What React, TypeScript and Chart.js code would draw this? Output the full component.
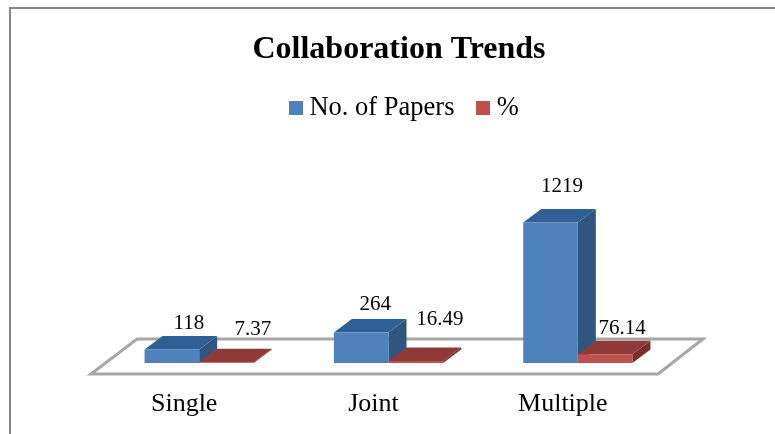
import React, { useEffect, useRef } from "react";
import { Chart, registerables } from "chart.js";

Chart.register(...registerables);

const categories = ["Single", "Joint", "Multiple"];
const papers = [118, 264, 1219];
const percent = [7.37, 16.49, 76.14];
const seriesNames = ["No. of Papers", "%"];

const FONT = '"Liberation Serif", "Times New Roman", serif';
const DEPTH_X = 18;
const DEPTH_Y = 13.5;
const frontColors = ["#4f81bd", "#c0504d"];
const topColors = ["#2f5f94", "#8f3a38"];
const sideColors = ["#30557f", "#772e2c"];
// nudges of each value label from the top-centre of its bar: [dx, dy]
const labelNudges = [
  [[17, -26], [14, -28], [11.5, -36]],
  [[26.5, -33], [24, -42], [17, -26]],
];

function swatch(color: string) {
  const c = document.createElement("canvas");
  c.width = 14;
  c.height = 14;
  const g = c.getContext("2d")!;
  g.fillStyle = color;
  g.fillRect(0, 0, 14, 14);
  return c;
}

function poly(ctx: CanvasRenderingContext2D, pts: number[][], fill: string) {
  ctx.beginPath();
  pts.forEach(([x, y], i) => (i ? ctx.lineTo(x, y) : ctx.moveTo(x, y)));
  ctx.closePath();
  ctx.fillStyle = fill;
  ctx.fill();
}

const framePlugin = {
  id: "frame",
  beforeDraw(chart: any) {
    const { ctx } = chart;
    ctx.save();
    ctx.fillStyle = "#ffffff";
    ctx.fillRect(0, 0, chart.width, chart.height);
    ctx.strokeStyle = "#868686";
    ctx.lineWidth = 2;
    ctx.strokeRect(10, 8, chart.width + 50, chart.height + 50);
    ctx.restore();
  },
  afterLayout(chart: any) {
    chart.legend.left += 8;
    chart.legend.right += 8;
  },
};

const depthPlugin = {
  id: "depth",
  beforeDatasetsDraw(chart: any) {
    const { ctx, chartArea } = chart;
    const base = chart.scales.y.getPixelForValue(0);
    ctx.save();
    ctx.beginPath();
    ctx.moveTo(chartArea.left - 13.5, base + 11);
    ctx.lineTo(chartArea.right - 14.5, base + 11);
    ctx.lineTo(chartArea.right + 30.5, base - 24);
    ctx.lineTo(chartArea.left + 32.5, base - 24);
    ctx.closePath();
    ctx.strokeStyle = "#a6a6a6";
    ctx.lineWidth = 3;
    ctx.stroke();
    [0, 1].forEach((d) => {
      chart.getDatasetMeta(d).data.forEach((bar: any) => {
        const l = bar.x - bar.width / 2;
        const r = bar.x + bar.width / 2;
        poly(ctx, [[r, bar.y], [r + DEPTH_X, bar.y - DEPTH_Y], [r + DEPTH_X, bar.base - DEPTH_Y], [r, bar.base]], sideColors[d]);
        poly(ctx, [[l, bar.y], [r, bar.y], [r + DEPTH_X, bar.y - DEPTH_Y], [l + DEPTH_X, bar.y - DEPTH_Y]], topColors[d]);
      });
    });
    ctx.restore();
  },
  afterDatasetsDraw(chart: any) {
    const { ctx } = chart;
    ctx.save();
    ctx.font = `21px ${FONT}`;
    ctx.fillStyle = "#000000";
    ctx.textAlign = "center";
    ctx.textBaseline = "middle";
    chart.data.datasets.forEach((ds: any, d: number) => {
      chart.getDatasetMeta(d).data.forEach((bar: any, i: number) => {
        const [dx, dy] = labelNudges[d][i];
        ctx.fillText(String(ds.data[i]), bar.x + dx, bar.y + dy);
      });
    });
    ctx.restore();
  },
};

export default function App() {
  const ref = useRef<HTMLCanvasElement>(null);
  useEffect(() => {
    const hiddenAxis = (position: string, width: number) => ({
      type: "linear",
      position,
      min: 0,
      max: 2014,
      display: true,
      ticks: { display: false },
      grid: { display: false },
      border: { display: false },
      afterFit(s: any) {
        s.width = width;
      },
    });
    const chart = new Chart(ref.current!, {
      type: "bar",
      data: {
        labels: categories,
        datasets: [
          { label: seriesNames[0], data: papers, backgroundColor: frontColors[0], categoryPercentage: 0.577, barPercentage: 1 },
          { label: seriesNames[1], data: percent, backgroundColor: frontColors[1], categoryPercentage: 0.577, barPercentage: 1 },
        ],
      },
      options: {
        responsive: false,
        animation: false,
        devicePixelRatio: 1,
        layout: { padding: { left: 23, right: 0, top: 0, bottom: 0 } },
        scales: {
          x: {
            grid: { display: false, drawTicks: false },
            border: { display: false },
            ticks: { color: "#000000", font: { family: FONT, size: 26 }, padding: 26, maxRotation: 0, labelOffset: -15 },
            afterFit(s: any) {
              s.height = 71;
            },
          },
          y: hiddenAxis("left", 81.5),
          yPad: hiddenAxis("right", 102.5),
        },
        plugins: {
          tooltip: { enabled: false },
          title: {
            display: true,
            text: "Collaboration Trends",
            color: "#000000",
            font: { family: FONT, size: 32, weight: "bold" },
            padding: { top: 31, bottom: -3 },
          },
          legend: {
            position: "top",
            labels: {
              color: "#000000",
              font: { family: FONT, size: 26.5 },
              usePointStyle: true,
              boxWidth: 1,
              padding: 28,
              generateLabels: (c: any) =>
                c.data.datasets.map((ds: any, i: number) => ({
                  text: ds.label,
                  fillStyle: frontColors[i],
                  strokeStyle: frontColors[i],
                  fontColor: "#000000",
                  lineWidth: 0,
                  pointStyle: swatch(frontColors[i]),
                  datasetIndex: i,
                })),
            },
          },
        },
      } as any,
      plugins: [framePlugin, depthPlugin],
    } as any);
    return () => chart.destroy();
  }, []);
  return (
    <div style={{ position: "fixed", left: 0, top: 0, width: 775, height: 434, overflow: "hidden" }}>
      <canvas ref={ref} width={775} height={434} style={{ display: "block" }} />
    </div>
  );
}
